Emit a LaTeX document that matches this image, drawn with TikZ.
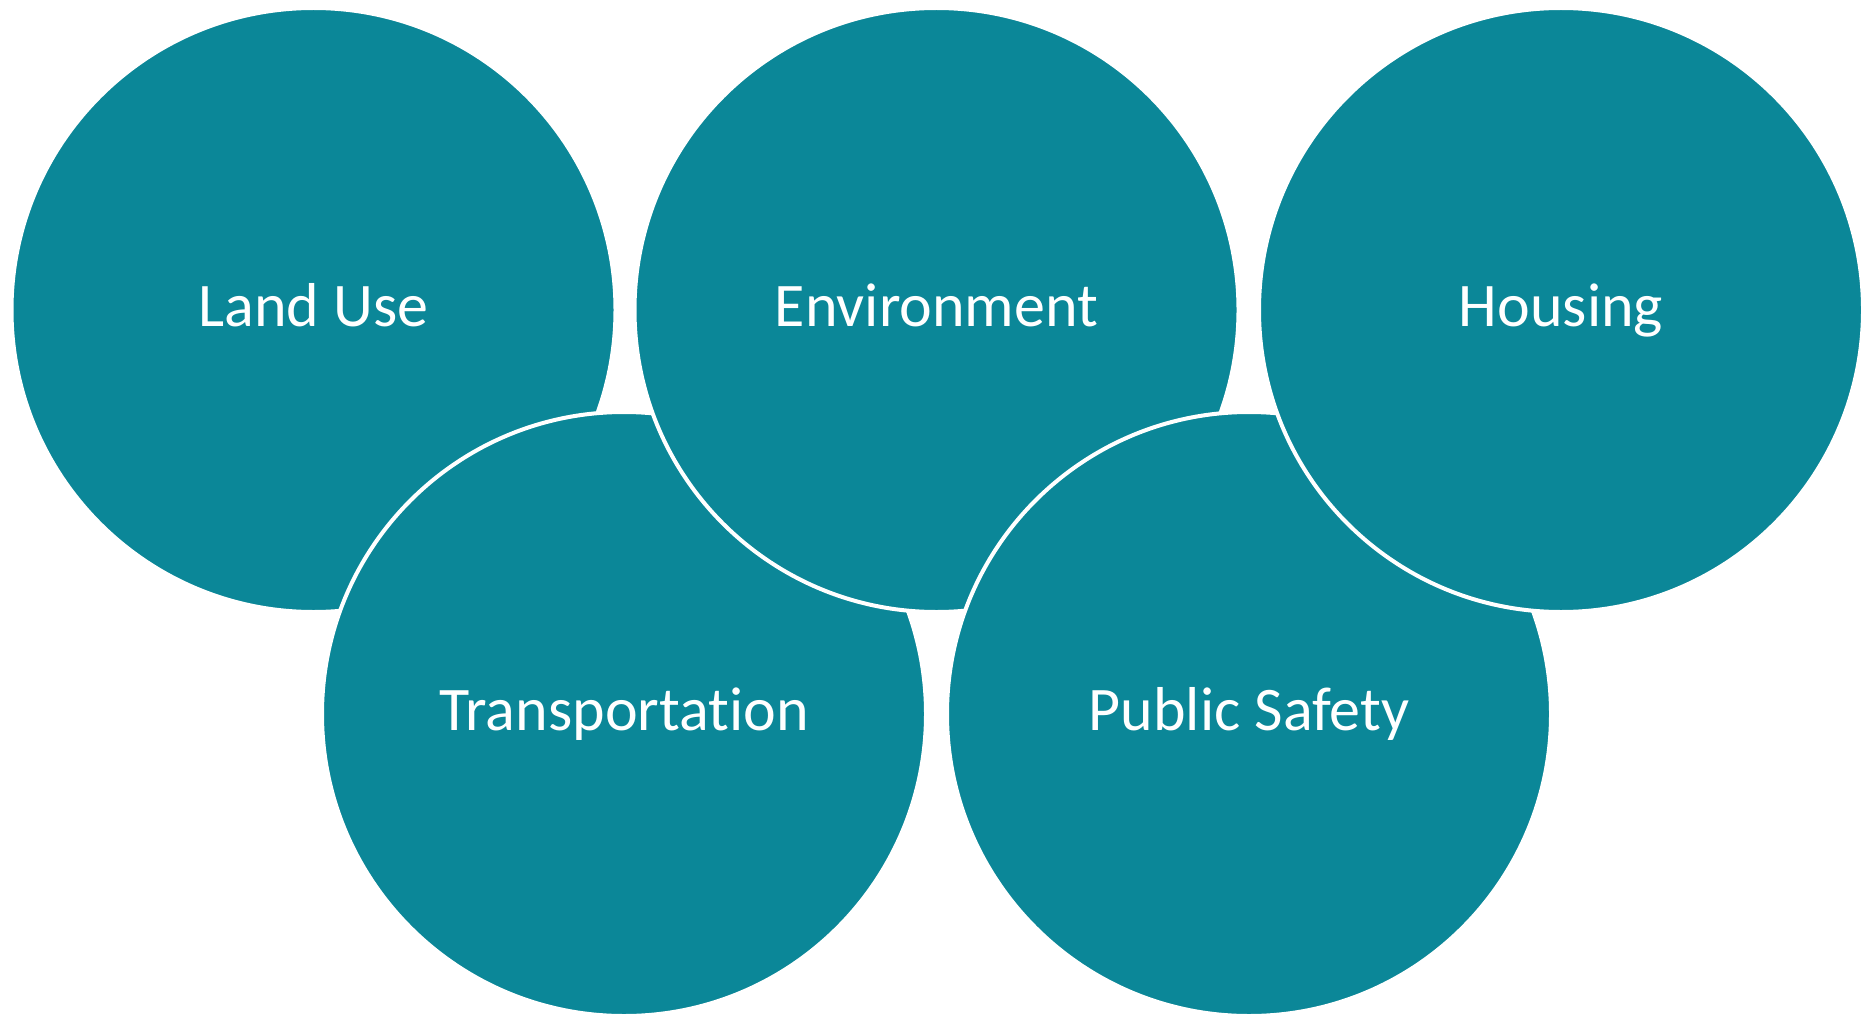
\documentclass[tikz,border=0pt]{standalone}
\usepackage{fontspec}
\setmainfont[Ligatures={NoCommon,NoRequired,NoContextual},Contextuals={NoAlternate}]{Carlito}
\definecolor{teal1}{RGB}{11,135,152}
\tikzset{
  bubble/.style={circle, fill=teal1, draw=white, line width=4pt, minimum size=604pt, inner sep=0pt,
    text=white, font=\fontsize{62}{70}\selectfont},
}
\newcommand{\btext}[1]{\raisebox{10pt}{#1}}
\begin{document}
\begin{tikzpicture}[x=1pt,y=-1pt]
\useasboundingbox[fill=white] (0,0) rectangle (1873,1014);
\node[bubble] (landuse) at (313.5,310) {\btext{Land Use}};
\node[bubble] (transport) at (624,714) {\btext{Transportation}};
\node[bubble] (env) at (936.5,310) {\btext{Environment}};
\node[bubble] (safety) at (1249,714) {\btext{Public Safety}};
\node[bubble] (housing) at (1561,310) {\btext{Housing}};
\end{tikzpicture}
\end{document}
